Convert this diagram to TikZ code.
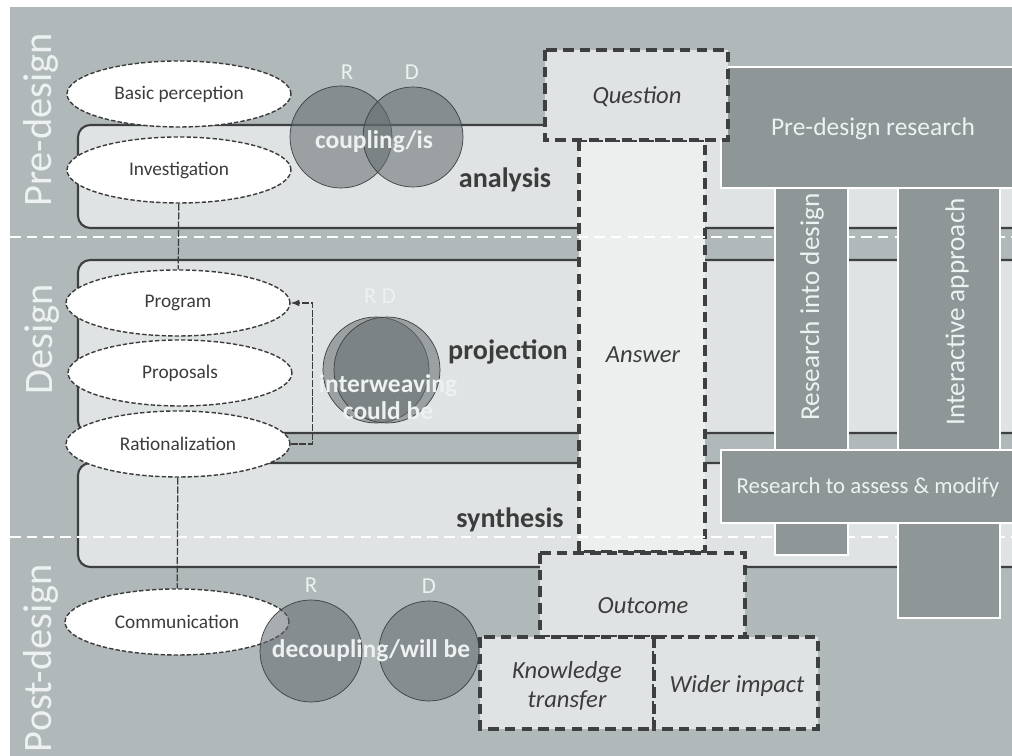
\documentclass[tikz,border=0pt]{standalone}
\usepackage{fontspec}
\setmainfont{Carlito}
\usetikzlibrary{arrows,shapes.geometric}

\definecolor{bggray}{HTML}{B0B8BA}
\definecolor{boxlight}{HTML}{DFE3E4}
\definecolor{anslight}{HTML}{EDEFEF}
\definecolor{resgray}{HTML}{8E9698}
\definecolor{linedark}{HTML}{3E3F40}
\definecolor{textdark}{HTML}{3C3C3C}
\definecolor{circgray}{HTML}{646B6E}
\definecolor{labwhite}{HTML}{EEF1F1}

\tikzset{
  phasebox/.style={fill=boxlight, draw=linedark, line width=1.2pt, rounded corners=7pt},
  dashbox/.style={fill=boxlight, draw=linedark, line width=1.8pt, dash pattern=on 6pt off 3.5pt},
  resbox/.style={fill=resgray, draw=white, line width=0.9pt},
  splitline/.style={white, line width=1.7pt, dash pattern=on 6pt off 3.5pt},
  stage/.style={ellipse, fill=white, draw=textdark, line width=0.8pt, dash pattern=on 2.5pt off 1.2pt,
    minimum width=4.48cm, minimum height=1.32cm, inner sep=0pt, text=textdark, font=\fontsize{11}{13}\selectfont},
  rdcircle/.style={fill=circgray, fill opacity=0.55, draw=linedark, thin},
  phaselabel/.style={rotate=90, text=labwhite, font=\fontsize{23}{26}\selectfont},
  steplabel/.style={text=textdark, font=\fontsize{16}{18}\selectfont\bfseries},
  rdlabel/.style={text=labwhite, font=\fontsize{13}{15}\selectfont},
  mixlabel/.style={text=labwhite, align=center, font=\fontsize{14.5}{15.5}\selectfont\bfseries},
  reslabel/.style={text=labwhite, font=\fontsize{14.5}{17}\selectfont},
  outlabel/.style={text=textdark, align=center, font=\fontsize{14}{16.5}\selectfont\itshape},
  link/.style={textdark, line width=0.7pt, dash pattern=on 4pt off 1pt}
}

\begin{document}
\begin{tikzpicture}[x=0.02cm, y=-0.02cm]
  \useasboundingbox (0,0) rectangle (1012,756);
  \clip (10,7) rectangle (1012,756);
  \fill[bggray] (10,7) rectangle (1012,756);

  % phases
  \draw[phasebox] (78,125) rectangle (1040,228);
  \draw[phasebox] (78,260) rectangle (1040,433);
  \draw[phasebox] (78,463) rectangle (1040,567);
  \draw[dashbox, fill=anslight] (579,140) rectangle (705,552);
  \draw[splitline] (10,237) -- (1012,237);
  \draw[splitline] (10,537) -- (1012,537);

  % research approaches
  \draw[resbox] (775,188) rectangle (848,555);
  \draw[resbox] (898,188) rectangle (1000,618);
  \draw[resbox] (721,67) rectangle (1030,188);
  \draw[resbox] (721,450) rectangle (1030,523);
  \node[reslabel] (predes) at (873,129) {Pre-design research};
  \node[reslabel, rotate=90, font=\fontsize{15.5}{17}\selectfont] (into) at (812,307) {Research into design};
  \node[reslabel, rotate=90, font=\fontsize{15.5}{17}\selectfont] (inter) at (957,312) {Interactive approach};
  \node[reslabel, font=\fontsize{13}{15}\selectfont] (assess) at (868,487) {Research to assess \& modify};

  % question / answer / outcome
  \draw[dashbox] (545,50) rectangle (728,140);
  \draw[dashbox] (540,553) rectangle (745,637);
  \draw[dashbox] (480,637) rectangle (654,729);
  \draw[dashbox] (654,637) rectangle (818,729);
  \node[outlabel] (question) at (637,97) {Question};
  \node[outlabel] (answer) at (643,355) {Answer};
  \node[outlabel] (outcome) at (643,606) {Outcome};
  \node[outlabel] (transfer) at (567,686) {Knowledge\\transfer};
  \node[outlabel] (impact) at (737,686) {Wider impact};

  \node[steplabel] (analysis) at (505,180) {analysis};
  \node[steplabel] (projection) at (508,352) {projection};
  \node[steplabel] (synthesis) at (510,520) {synthesis};

  \node[phaselabel] (pre) at (41,120) {Pre-design};
  \node[phaselabel] (des) at (42,339) {Design};
  \node[phaselabel] (post) at (41,658) {Post-design};

  % stages
  \node[stage] (basic) at (179,94) {Basic perception};
  \node[stage] (invest) at (179,170) {Investigation};
  \node[stage] (program) at (178,303) {Program};
  \node[stage] (proposals) at (180,373) {Proposals};
  \node[stage] (rational) at (178,444) {Rationalization};
  \node[stage] (commun) at (177,622) {Communication};
  \draw[link] (invest) -- (program);
  \draw[link] (rational) -- (commun);
  \draw[link, -latex] (rational.east) -- ++(22,0) |- (program.east);

  % R and D
  \draw[rdcircle] (341,137) circle (51);
  \draw[rdcircle] (413,137) circle (50);
  \node[rdlabel] (r1) at (347,72) {R};
  \node[rdlabel] (d1) at (412,72) {D};
  \node[mixlabel] (coupling) at (374,142) {coupling/is};

  \draw[rdcircle] (376,370) circle (53);
  \draw[rdcircle] (387,370) circle (53);
  \node[rdlabel] (rd2) at (380,296) {R D};
  \node[mixlabel] (weave) at (388,397) {interweaving\\could be};

  \draw[rdcircle] (311,651) circle (51);
  \draw[rdcircle] (429,651) circle (50);
  \node[rdlabel] (r3) at (311,585) {R};
  \node[rdlabel] (d3) at (429,586) {D};
  \node[mixlabel] (decoupling) at (371,651) {decoupling/will be};
\end{tikzpicture}
\end{document}
